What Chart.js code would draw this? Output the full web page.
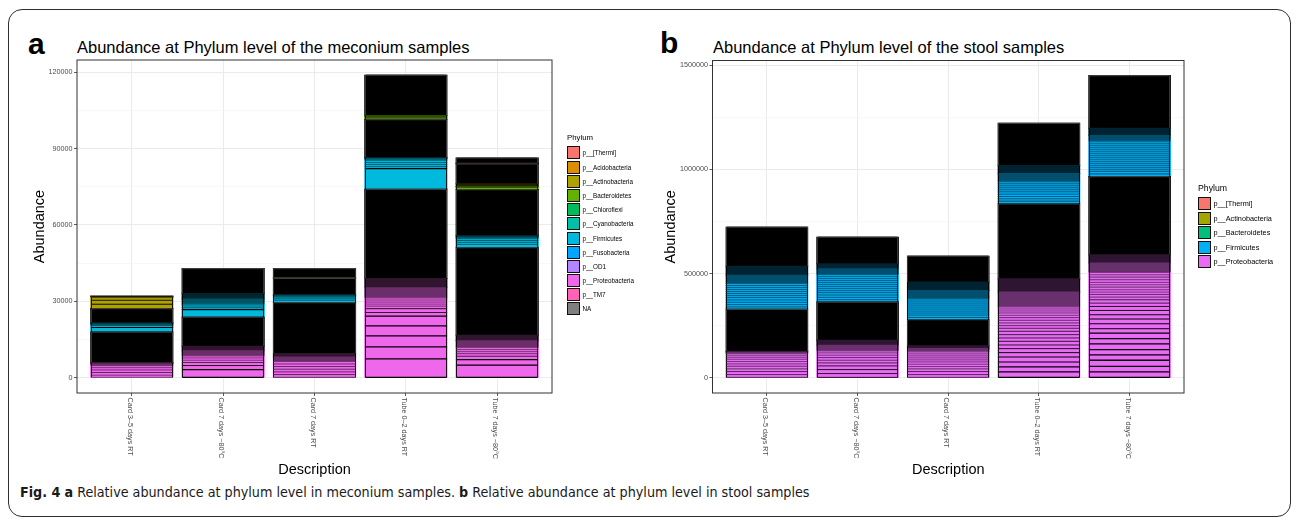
<!DOCTYPE html>
<html lang="en">
<head>
<meta charset="UTF-8">
<title>Abundance at Phylum level</title>
<script src="https://cdn.jsdelivr.net/npm/chart.js@4.4.1/dist/chart.umd.min.js"></script>
<style>
  body { margin: 0; background: #fff; font-family: "Liberation Sans", Arial, sans-serif; }
  #fig { position: relative; width: 1295px; height: 520px; overflow: hidden; }
  .frame { position: absolute; left: 8px; top: 9px; width: 1283px; height: 508px; border: 1.5px solid #2e2e2e;
           border-radius: 14px; box-sizing: border-box; }
  .letter { position: absolute; font-weight: bold; font-size: 30px; line-height: 1; }
  .ptitle { position: absolute; font-size: 16.5px; line-height: 1; white-space: nowrap; }
  canvas { position: absolute; top: 0; }
  .legend { position: absolute; color: #000; }
  .lg-title { line-height: 1; margin-bottom: 4px; }
  .lg-row { display: flex; align-items: center; white-space: nowrap; }
  .lg-key { display: inline-block; width: 13px; height: 13px; border: 1px solid #111; box-sizing: border-box; margin-right: 2.5px; }
  .caption { position: absolute; left: 20px; top: 484px; font-size: 14.2px; white-space: nowrap;
             font-family: "Liberation Sans Narrow", "DejaVu Sans Condensed", "Liberation Sans", sans-serif; color: #1a1a1a; }
</style>
</head>
<body>
<div id="fig">
  <div class="frame"></div>
  <div class="letter" style="left:28px; top:29px;">a</div>
  <div class="ptitle" style="left:77px; top:39px;">Abundance at Phylum level of the meconium samples</div>
  <div class="letter" style="left:660px; top:28px;">b</div>
  <div class="ptitle" style="left:713px; top:39px;">Abundance at Phylum level of the stool samples</div>
  <canvas id="mecChart" width="640" height="482" style="left:0px;"></canvas>
  <canvas id="stoolChart" width="655" height="482" style="left:640px;"></canvas>
  <div class="legend" id="mecLegend" style="left:567px; top:134px;"></div>
  <div class="legend" id="stoolLegend" style="left:1198px; top:184px;"></div>
  <div class="caption"><b>Fig. 4</b> <b>a</b> Relative abundance at phylum level in meconium samples. <b>b</b> Relative abundance at phylum level in stool samples</div>
</div>

<script>
// samples on the x axis (same for both panels)
const samples = ['Card 3–5 days RT', 'Card 7 days −80°C', 'Card 7 days RT', 'Tube 0–2 days RT', 'Tube 7 days −80°C'];

// y axis ticks (every other one labelled, the rest are minor grid lines)
const mecTicks = [0, 15000, 30000, 45000, 60000, 75000, 90000, 105000, 120000];
const stoolTicks = [0, 250000, 500000, 750000, 1000000, 1250000, 1500000];

// legend entries and ggplot hue colours
const mecPhyla = ['p__[Thermi]', 'p__Acidobacteria', 'p__Actinobacteria', 'p__Bacteroidetes', 'p__Chloroflexi',
  'p__Cyanobacteria', 'p__Firmicutes', 'p__Fusobacteria', 'p__OD1', 'p__Proteobacteria', 'p__TM7', 'NA'];
const mecPalette = ['#F8766D', '#DB8E00', '#AEA200', '#64B200', '#00BD5C', '#00C1A7', '#00BADE', '#00A6FF',
  '#B385FF', '#EF67EB', '#FF63B6', '#7F7F7F'];
const stoolPhyla = ['p__[Thermi]', 'p__Actinobacteria', 'p__Bacteroidetes', 'p__Firmicutes', 'p__Proteobacteria'];
const stoolPalette = ['#F8766D', '#A3A500', '#00BF7D', '#00B0F6', '#E76BF3'];

// stacked OTU segments, bottom to top: [phylum, abundance, kind]
// kind: none = single OTU, 'minor' = run of small OTUs, 'trace' = very small OTUs
// 'mixed' = many tiny OTUs whose outlines render black
const P = 'p__Proteobacteria', F = 'p__Firmicutes', A = 'p__Actinobacteria', B = 'p__Bacteroidetes', T = 'p__[Thermi]', M = 'mixed';

const mecCard35 = [[P,1050],[P,1050],[P,1000],[P,900],[P,800],[P,700,'minor'],[P,500,'trace'],
  [M,12000],
  [F,1800],[F,700],[F,600,'minor'],[F,500,'trace'],
  [M,5600],
  [A,1700],[A,1550],[A,1050],[A,300,'trace'],
  [M,350]];
const mecCard7Frozen = [[P,3270],[P,1570],[P,1180],[P,900],[P,900],[P,800],[P,2000,'minor'],[P,1800,'trace'],
  [M,11380],
  [F,3000],[F,700],[F,700],[F,700],[F,2000,'minor'],[F,2200,'trace'],
  [M,9800]];
const mecCard7RT = [[P,1300],[P,1050],[P,1050],[P,1050],[P,1000],[P,1000],[P,1700,'minor'],[P,1400,'trace'],
  [M,20000],
  [F,900],[F,600],[F,600],[F,600,'minor'],[F,450,'trace'],
  [M,6400],
  [B,300,'minor'],
  [M,3470]];
const mecTube02 = [[P,7450],[P,4700],[P,4300],[P,3950],[P,3800],[P,1450],[P,1500],[P,1000],[P,800],[P,800],[P,800],[P,800],
  [P,4000,'minor'],[P,3650,'trace'],
  [M,35000],
  [F,8100],[F,800],[F,800],[F,780],[F,900],[F,670,'minor'],[F,450,'trace'],
  [M,14900],
  [B,600],[B,1000,'minor'],
  [M,15800]];
const mecTube7Frozen = [[P,4970],[P,2220],[P,1300],[P,1000],[P,800],[P,800],[P,800],[P,2700,'minor'],[P,2100,'trace'],
  [M,34410],
  [F,500],[F,800],[F,800],[F,700],[F,700],[F,700,'minor'],[F,600,'trace'],
  [M,18000],
  [B,800],[B,400,'minor'],
  [A,1100,'trace'],
  [M,7800],
  [T,300,'trace'],
  [M,2000]];

const stoolCard35 = [[P,16000],[P,14400],[P,12800],[P,12800],[P,11200],[P,11200],[P,11200],[P,9600],[P,9600],[P,8000],
  [P,6000,'minor'],[P,5200,'trace'],
  [M,201000],
  [F,11200],[F,11200],[F,11200],[F,11200],[F,11200],[F,9600],[F,9600],[F,9600],[F,9600],[F,9600],[F,9600],[F,9600],
  [F,40000,'minor'],[F,43000,'trace'],
  [M,187800]];
const stoolCard7Frozen = [[P,20700],[P,19200],[P,17600],[P,14400],[P,12800],[P,12800],[P,11200],[P,11200],[P,9600],
  [P,27100,'minor'],[P,24000,'trace'],
  [M,183400],
  [F,11200],[F,11200],[F,11200],[F,11200],[F,9600],[F,9600],[F,9600],[F,9600],[F,9600],[F,9600],[F,9600],[F,9600],[F,9600],
  [F,28700,'minor'],[F,24000,'trace'],
  [M,127100]];
const stoolCard7RT = [[P,16000],[P,14400],[P,12800],[P,11200],[P,11200],[P,11200],[P,9600],[P,9600],[P,9600],[P,9600],[P,9600],
  [P,16000,'minor'],[P,12800,'trace'],
  [M,125400],
  [F,11200],[F,11200],[F,9600],[F,9600],[F,9600],[F,9600],[F,9600],[F,9600],[F,9600],[F,9600],
  [F,41500,'minor'],[F,39900,'trace'],
  [M,124400]];
const stoolTube02 = [[P,28700],[P,23900],[P,23900],[P,23900],[P,20700],[P,19200],[P,17600],[P,17600],[P,16000],[P,16000],
  [P,16000],[P,14400],[P,12800],[P,12800],[P,12800],[P,12800],[P,11200],[P,11200],[P,9600],[P,9600],[P,9600],
  [P,71800,'minor'],[P,63800,'trace'],
  [M,359100],
  [F,12800],[F,11200],[F,11200],[F,11200],[F,11200],[F,9600],[F,9600],[F,9600],[F,9600],[F,9600],
  [F,39400,'minor'],[F,39000,'trace'],
  [M,202000]];
const stoolTube7Frozen = [[P,28700],[P,27100],[P,28700],[P,25500],[P,25500],[P,27100],[P,25500],[P,27100],[P,20700],
  [P,23900],[P,22300],[P,20700],[P,20700],[P,19200],[P,16000],[P,16000],[P,12800],[P,12800],[P,11200],[P,11200],
  [P,12800],[P,11200],[P,11200],[P,12800],[P,12800],[P,11200],[P,11200],
  [P,44700,'minor'],[P,39900,'trace'],
  [M,375100],
  [F,12800],[F,12800],[F,9600],[F,9600],[F,9600],[F,9600],[F,9600],[F,9600],[F,9600],[F,9600],[F,9600],[F,9600],
  [F,9600],[F,9600],[F,9600],[F,9600],[F,9600],
  [F,27100,'minor'],[F,35100,'trace'],
  [M,252600]];

const mecBars = [mecCard35, mecCard7Frozen, mecCard7RT, mecTube02, mecTube7Frozen];
const stoolBars = [stoolCard35, stoolCard7Frozen, stoolCard7RT, stoolTube02, stoolTube7Frozen];

function shade(hex, f) {
  const n = parseInt(hex.slice(1), 16);
  return 'rgb(' + Math.round(((n >> 16) & 255) * f) + ',' + Math.round(((n >> 8) & 255) * f) + ',' + Math.round((n & 255) * f) + ')';
}

function segColor(seg, phyla, palette) {
  if (!seg) return 'transparent';
  if (seg[0] === M) return '#000';
  const base = palette[phyla.indexOf(seg[0])];
  if (seg[2] === 'minor') return shade(base, 0.45);
  if (seg[2] === 'trace') return shade(base, 0.2);
  return base;
}

function buildDatasets(bars, phyla, palette) {
  const n = Math.max(...bars.map(b => b.length));
  const sets = [];
  for (let k = 0; k < n; k++) {
    sets.push({
      data: bars.map(b => b[k] ? b[k][1] : null),
      backgroundColor: bars.map(b => segColor(b[k], phyla, palette)),
      borderWidth: 0,
      inflateAmount: 0.5,
      barPercentage: 0.9,
      categoryPercentage: 1,
      stack: 'otu'
    });
  }
  return sets;
}

// OTU outlines (black, as geom_bar colour) taken from the bar elements
const segOutline = {
  id: 'segOutline',
  afterDatasetsDraw(chart, args, opts) {
    const ctx = chart.ctx;
    ctx.save();
    chart.data.datasets.forEach((ds, k) => {
      chart.getDatasetMeta(k).data.forEach((el, i) => {
        const seg = opts.bars[i][k];
        if (!seg) return;
        const {x, y, base, width} = el.getProps(['x', 'y', 'base', 'width'], true);
        const top = Math.min(y, base), bot = Math.max(y, base), h = bot - top;
        const l = Math.round(x - width / 2) + 0.5, r = Math.round(x + width / 2) - 0.5;
        ctx.strokeStyle = seg[0] === M ? '#3c3c3c' : '#000';
        ctx.lineWidth = 0.9;
        ctx.beginPath();
        ctx.moveTo(l, top); ctx.lineTo(l, bot);
        ctx.moveTo(r, top); ctx.lineTo(r, bot);
        ctx.stroke();
        if (seg[2] || h < 1.5) return;
        ctx.lineWidth = Math.min(1.3, Math.max(0.5, h * 0.22));
        ctx.beginPath();
        ctx.moveTo(l, top); ctx.lineTo(r, top);
        if (k === 0) { ctx.moveTo(l, bot); ctx.lineTo(r, bot); }
        ctx.stroke();
      });
    });
    ctx.restore();
  }
};

// panel border (theme_bw) and rotated sample names
const panelFrame = {
  id: 'panelFrame',
  afterDatasetsDraw(chart) {
    const {ctx, chartArea: a} = chart;
    ctx.save();
    ctx.strokeStyle = '#333';
    ctx.lineWidth = 1;
    ctx.strokeRect(a.left, a.top, a.right - a.left, a.bottom - a.top);
    ctx.restore();
  }
};
const xLabels = {
  id: 'xLabels',
  afterDraw(chart, args, opts) {
    const {ctx, chartArea, scales: {x}} = chart;
    ctx.save();
    ctx.font = '7.2px "Liberation Sans", Arial, sans-serif';
    ctx.fillStyle = '#4d4d4d';
    ctx.textAlign = 'left';
    ctx.textBaseline = 'middle';
    opts.labels.forEach((lab, i) => {
      ctx.save();
      ctx.translate(x.getPixelForValue(i + 1) - 2, chartArea.bottom + 4.5);
      ctx.rotate(Math.PI / 2);
      ctx.fillText(lab, 0, 0);
      ctx.restore();
    });
    ctx.restore();
  }
};

function makeChart(id, bars, phyla, palette, tickValues, pad, yWidth) {
  const totals = bars.map(b => b.reduce((s, d) => s + d[1], 0));
  const top = Math.max(...totals);
  const major = v => tickValues.indexOf(v) % 2 === 0;
  return new Chart(document.getElementById(id), {
    type: 'bar',
    data: {
      labels: samples.map((s, i) => i + 1),
      datasets: buildDatasets(bars, phyla, palette)
    },
    options: {
      responsive: false,
      animation: false,
      layout: { padding: pad },
      plugins: {
        legend: { display: false },
        tooltip: { enabled: false },
        xLabels: { labels: samples },
        segOutline: { bars: bars }
      },
      scales: {
        x: {
          type: 'linear', min: 0.4, max: 5.6, stacked: true, offset: false,
          afterBuildTicks: s => { s.ticks = samples.map((n, i) => ({ value: i + 1 })); },
          afterFit: s => { s.height = 89; },
          ticks: { display: false },
          grid: { offset: false, color: '#ebebeb', lineWidth: 1, tickColor: '#333', tickLength: 3, tickWidth: 0.8 },
          border: { display: false },
          title: { display: true, text: 'Description', color: '#000',
                   font: { size: 14.5, family: '"Liberation Sans", Arial, sans-serif' }, padding: { top: 0, bottom: 3.8 } }
        },
        y: {
          type: 'linear', stacked: true, min: -0.05 * top, max: 1.05 * top,
          afterBuildTicks: s => { s.ticks = tickValues.map(v => ({ value: v })); },
          afterFit: s => { s.width = yWidth; },
          ticks: {
            padding: 1.5, color: '#4d4d4d',
            font: { size: 7.2, family: '"Liberation Sans", Arial, sans-serif' },
            callback: v => major(v) ? String(v) : ''
          },
          grid: {
            color: c => c.tick && major(c.tick.value) ? '#ebebeb' : '#f3f3f3',
            lineWidth: c => c.tick && major(c.tick.value) ? 1 : 0.6,
            tickColor: c => c.tick && major(c.tick.value) ? '#333' : 'rgba(0,0,0,0)',
            tickLength: 3, tickWidth: 0.8
          },
          border: { display: false },
          title: { display: true, text: 'Abundance', color: '#000',
                   font: { size: 14.5, family: '"Liberation Sans", Arial, sans-serif' }, padding: 0 }
        }
      }
    },
    plugins: [segOutline, panelFrame, xLabels]
  });
}

function buildLegend(id, phyla, palette, titleSize, textSize, rowH) {
  const el = document.getElementById(id);
  let html = '<div class="lg-title" style="font-size:' + titleSize + 'px">Phylum</div>';
  phyla.forEach((p, i) => {
    html += '<div class="lg-row" style="height:' + rowH + 'px; font-size:' + textSize + 'px">' +
      '<span class="lg-key" style="background:' + palette[i] + '"></span>' + p + '</div>';
  });
  el.innerHTML = html;
}

makeChart('mecChart', mecBars, mecPhyla, mecPalette, mecTicks, { left: 31, right: 88, top: 60, bottom: 0 }, 46);
makeChart('stoolChart', stoolBars, stoolPhyla, stoolPalette, stoolTicks, { left: 22.5, right: 111, top: 60.5, bottom: 0 }, 50);
buildLegend('mecLegend', mecPhyla, mecPalette, 7.8, 6.3, 14.2);
buildLegend('stoolLegend', stoolPhyla, stoolPalette, 8.7, 7.3, 14.4);
</script>
</body>
</html>
